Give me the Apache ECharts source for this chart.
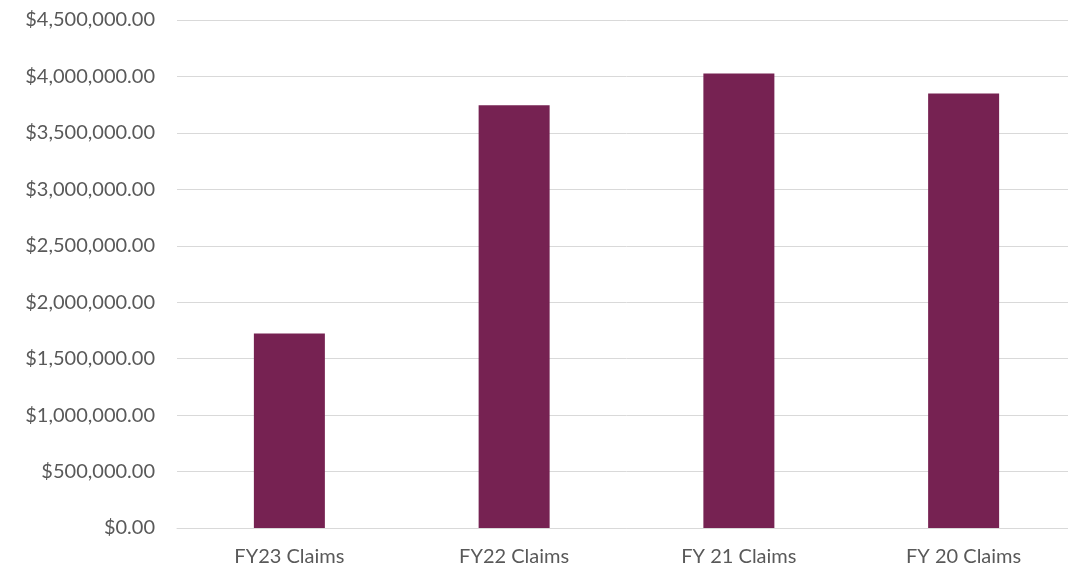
<!DOCTYPE html>
<html>
<head>
<meta charset="utf-8">
<script src="https://cdn.jsdelivr.net/npm/echarts@6/dist/echarts.min.js"></script>
<style>
  html, body { margin: 0; padding: 0; background: #fff; overflow: hidden; }
  /* slightly wider than the window: the plot runs past the right edge, as in the original */
  #chart { width: 1076px; height: 569px; }
</style>
</head>
<body>
<div id="chart"></div>
<script>
// categories and values
const categories = ['FY23 Claims', 'FY22 Claims', 'FY 21 Claims', 'FY 20 Claims'];
const claims = [1722000, 3745000, 4025000, 3848000];

const chart = echarts.init(document.getElementById('chart'));

function money(v) {
    return '$' + v.toLocaleString('en-US', { minimumFractionDigits: 2, maximumFractionDigits: 2 });
}

const option = {
    animation: false,
    textStyle: { fontFamily: 'Lato' },
    grid: {
        left: 177,
        right: 0,
        top: 20,
        bottom: 41
    },
    xAxis: {
        type: 'category',
        data: categories,
        axisLine: { lineStyle: { color: '#d9d9d9', width: 1 } },
        axisTick: { show: false },
        axisLabel: { color: '#595959', fontSize: 20, margin: 19 }
    },
    yAxis: {
        type: 'value',
        min: 0,
        max: 4500000,
        interval: 500000,
        axisLine: { show: false },
        axisTick: { show: false },
        splitLine: { lineStyle: { color: '#d9d9d9', width: 1 } },
        axisLabel: { color: '#595959', fontSize: 20, margin: 22, formatter: money }
    },
    series: [
        {
            type: 'bar',
            data: claims,
            barWidth: 71,
            itemStyle: { color: '#762252' }
        }
    ]
};

chart.setOption(option);
</script>
</body>
</html>
